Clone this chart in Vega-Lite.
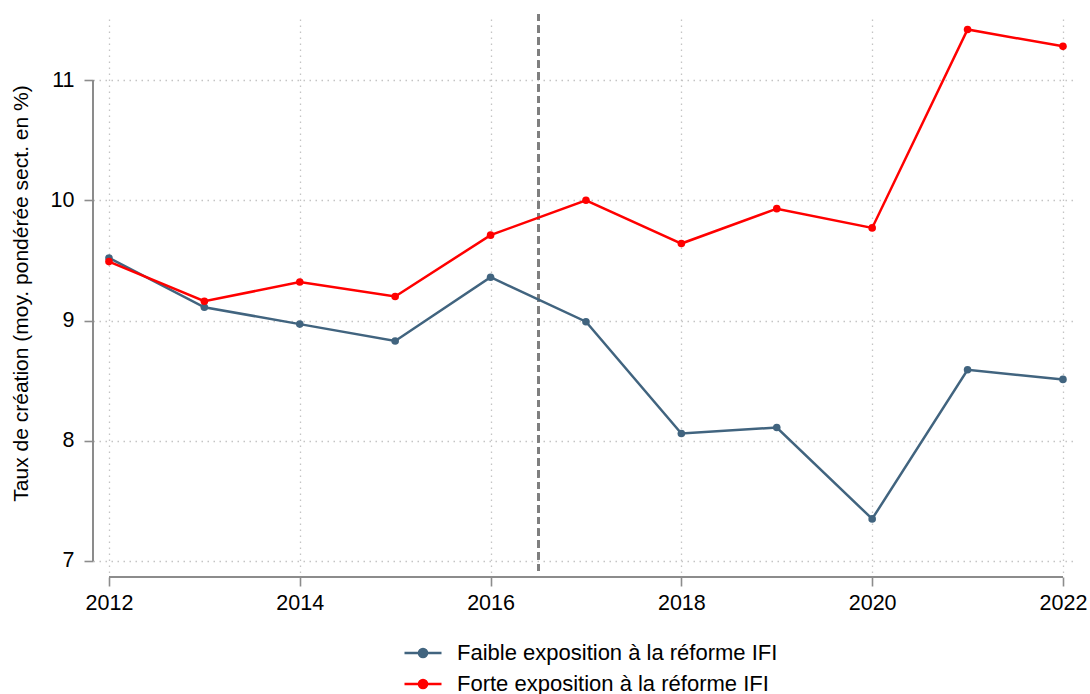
{
  "$schema": "https://vega.github.io/schema/vega-lite/v6.json",
  "autosize": {"type": "none"},
  "width": 983,
  "height": 558,
  "padding": {"left": 98, "top": 14, "right": 9, "bottom": 122},
  "background": "white",
  "config": {
    "font": "Liberation Sans",
    "view": {"stroke": null},
    "axis": {
      "labelFont": "Liberation Sans",
      "titleFont": "Liberation Sans",
      "labelFontSize": 21.5,
      "titleFontSize": 21,
      "titleFontWeight": "normal",
      "labelColor": "#000000",
      "titleColor": "#000000",
      "domain": false,
      "tickColor": "#8c8c8c",
      "tickWidth": 1.6,
      "tickSize": 9,
      "grid": true,
      "gridColor": "#c4c4c4",
      "gridDash": [1.5, 4.5],
      "gridWidth": 1.3,
      "offset": 5
    }
  },
  "data": {
    "values": [
      {"year": 2012, "group": "Faible exposition à la réforme IFI", "value": 9.52},
      {"year": 2013, "group": "Faible exposition à la réforme IFI", "value": 9.11},
      {"year": 2014, "group": "Faible exposition à la réforme IFI", "value": 8.97},
      {"year": 2015, "group": "Faible exposition à la réforme IFI", "value": 8.83},
      {"year": 2016, "group": "Faible exposition à la réforme IFI", "value": 9.36},
      {"year": 2017, "group": "Faible exposition à la réforme IFI", "value": 8.99},
      {"year": 2018, "group": "Faible exposition à la réforme IFI", "value": 8.06},
      {"year": 2019, "group": "Faible exposition à la réforme IFI", "value": 8.11},
      {"year": 2020, "group": "Faible exposition à la réforme IFI", "value": 7.35},
      {"year": 2021, "group": "Faible exposition à la réforme IFI", "value": 8.59},
      {"year": 2022, "group": "Faible exposition à la réforme IFI", "value": 8.51},
      {"year": 2012, "group": "Forte exposition à la réforme IFI", "value": 9.49},
      {"year": 2013, "group": "Forte exposition à la réforme IFI", "value": 9.16},
      {"year": 2014, "group": "Forte exposition à la réforme IFI", "value": 9.32},
      {"year": 2015, "group": "Forte exposition à la réforme IFI", "value": 9.2},
      {"year": 2016, "group": "Forte exposition à la réforme IFI", "value": 9.71},
      {"year": 2017, "group": "Forte exposition à la réforme IFI", "value": 10.0},
      {"year": 2018, "group": "Forte exposition à la réforme IFI", "value": 9.64},
      {"year": 2019, "group": "Forte exposition à la réforme IFI", "value": 9.93},
      {"year": 2020, "group": "Forte exposition à la réforme IFI", "value": 9.77},
      {"year": 2021, "group": "Forte exposition à la réforme IFI", "value": 11.42},
      {"year": 2022, "group": "Forte exposition à la réforme IFI", "value": 11.28}
    ]
  },
  "layer": [
    {
      "mark": {"type": "rule", "color": "#7f7f7f", "strokeWidth": 2, "strokeDash": [7, 4.7]},
      "encoding": {
        "x": {"datum": 2016.5, "type": "quantitative"}
      }
    },
    {
      "mark": {"type": "rule", "color": "#8c8c8c", "strokeWidth": 1.6},
      "encoding": {
        "x": {"datum": 2011.833, "type": "quantitative"},
        "y": {"datum": 7, "type": "quantitative"},
        "y2": {"datum": 11}
      }
    },
    {
      "mark": {"type": "rule", "color": "#8c8c8c", "strokeWidth": 1.6},
      "encoding": {
        "y": {"datum": 6.867, "type": "quantitative"},
        "x": {"datum": 2012, "type": "quantitative"},
        "x2": {"datum": 2022}
      }
    },
    {
      "mark": {"type": "line", "strokeWidth": 2.5, "point": {"filled": true, "size": 58, "opacity": 1}},
      "encoding": {
        "x": {
          "field": "year",
          "type": "quantitative",
          "scale": {"domain": [2011.885, 2022.189], "nice": false, "zero": false},
          "axis": {"values": [2012, 2014, 2016, 2018, 2020, 2022], "format": "d", "title": null, "labelPadding": 6}
        },
        "y": {
          "field": "value",
          "type": "quantitative",
          "scale": {"domain": [6.9085, 11.549], "nice": false, "zero": false},
          "axis": {"values": [7, 8, 9, 10, 11], "format": "d", "title": "Taux de création (moy. pondérée sect. en %)", "labelPadding": 10, "titlePadding": 19}
        },
        "color": {
          "field": "group",
          "type": "nominal",
          "scale": {
            "domain": ["Faible exposition à la réforme IFI", "Forte exposition à la réforme IFI"],
            "range": ["#41647f", "#ff0000"]
          },
          "legend": {
            "title": null,
            "orient": "none",
            "legendX": 305,
            "legendY": 619,
            "padding": 0,
            "direction": "vertical",
            "labelFont": "Liberation Sans",
            "labelFontSize": 22,
            "labelColor": "#000000",
            "labelLimit": 0,
            "labelOffset": 14,
            "symbolType": "M-1,0L1,0M-0.22,0A0.22,0.22,0,1,1,0.22,0A0.22,0.22,0,1,1,-0.22,0Z",
            "symbolSize": 1369,
            "symbolStrokeWidth": 2.5,
            "rowPadding": -5,
            "encode": {
              "symbols": {
                "update": {
                  "fill": {"scale": "color", "field": "value"},
                  "stroke": {"scale": "color", "field": "value"},
                  "opacity": {"value": 1},
                  "fillOpacity": {"value": 1},
                  "strokeOpacity": {"value": 1}
                }
              }
            }
          }
        }
      }
    }
  ]
}
